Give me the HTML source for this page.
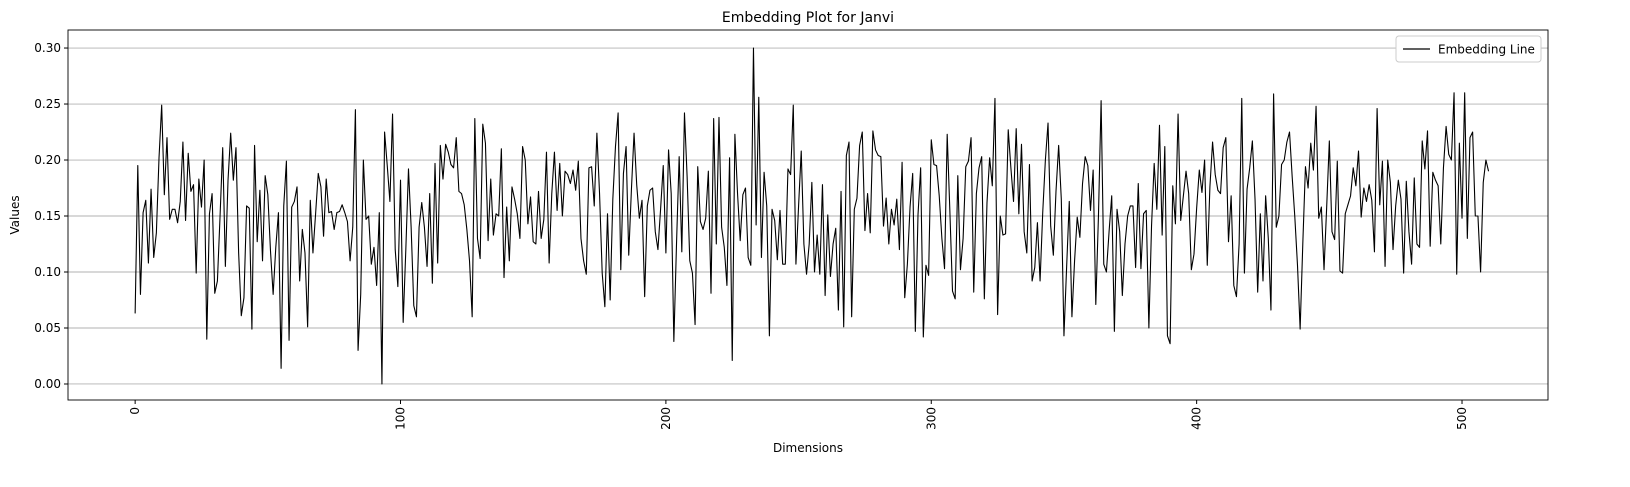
<!DOCTYPE html>
<html><head><meta charset="utf-8"><style>
html,body{margin:0;padding:0;background:#fff;}
svg text{font-family:"DejaVu Sans","Liberation Sans",sans-serif;fill:#000;}
</style></head><body>
<svg id="chart" width="1630" height="482" xmlns="http://www.w3.org/2000/svg">
<rect width="1630" height="482" fill="#fff"/>
<text x="808" y="22" font-size="14" text-anchor="middle">Embedding Plot for Janvi</text>
<g id="grid"></g>
<g id="axes"></g>
<path id="line" fill="none" stroke="#000" stroke-width="1.1" stroke-linejoin="round"/>
<rect x="68" y="30" width="1480" height="370" fill="none" stroke="#000" stroke-width="0.9"/>
<text x="808" y="452" font-size="12" text-anchor="middle">Dimensions</text>
<text x="19" y="215" font-size="12" text-anchor="middle" transform="rotate(-90 19 215)">Values</text>
<g>
<rect x="1396" y="36" width="145" height="26" rx="3" fill="#fff" stroke="#ccc"/>
<line x1="1403" y1="49" x2="1430" y2="49" stroke="#000" stroke-width="1.2"/>
<text x="1438" y="53.5" font-size="12">Embedding Line</text>
</g>
</svg>
<script>
const values = [
0.063,0.195,0.08,0.153,0.164,0.108,0.174,0.113,0.135,0.202,0.249,0.169,0.22,0.147,0.156,0.156,0.144,0.163,0.216,0.146,
0.206,0.172,0.178,0.099,0.183,0.158,0.2,0.04,0.152,0.17,0.081,0.092,0.15,0.211,0.105,0.182,0.224,0.182,0.211,0.117,
0.061,0.077,0.159,0.157,0.049,0.213,0.127,0.173,0.11,0.186,0.169,0.119,0.08,0.122,0.153,0.014,0.159,0.199,0.039,0.158,
0.163,0.176,0.092,0.138,0.117,0.051,0.164,0.117,0.152,0.188,0.176,0.132,0.183,0.153,0.154,0.138,0.153,0.154,0.16,0.153,
0.145,0.11,0.14,
0.245,0.03,0.08,0.2,0.147,0.15,0.107,0.122,0.088,0.153,0.0,0.225,0.195,0.163,0.241,0.12,0.087,0.182,
0.055,0.12,0.192,0.14,0.07,0.06,0.14,0.162,0.14,0.105,0.17,0.09,0.197,0.108,0.213,0.183,0.214,0.207,0.196,0.193,
0.22,0.172,0.17,0.16,0.138,0.11,0.06,0.237,0.13,0.112,0.232,0.215,0.128,0.183,0.133,0.152,0.15,0.21,0.095,0.158,
0.11,0.176,0.165,0.152,0.13,0.212,0.2,0.143,0.167,0.127,0.125,0.172,0.13,0.147,0.207,0.108,0.17,0.207,0.155,0.197,
0.15,0.19,
0.187,0.179,0.191,0.173,0.199,0.13,0.11,0.098,0.193,0.194,0.159,0.224,0.17,0.099,0.069,0.152,0.075,0.165,0.212,0.242,
0.102,0.188,0.212,0.115,0.173,0.224,0.178,0.148,0.164,0.078,0.159,0.173,0.175,0.136,0.12,0.156,0.195,0.117,0.209,0.17,
0.038,0.125,0.203,0.118,0.242,0.185,0.11,0.099,0.053,0.194,0.145,0.138,0.148,0.19,0.081,0.237,0.125,0.238,0.14,0.122,
0.088,0.202,0.021,0.223,0.17,0.128,0.169,0.175,0.113,0.106,0.30,0.142,0.256,0.113,0.189,0.159,0.043,0.156,0.146,0.111,
0.155,0.107,
0.107,0.192,0.187,0.249,0.107,0.159,0.208,0.125,0.098,0.125,0.18,0.1,0.133,0.098,0.178,0.079,0.151,0.096,0.125,0.139,
0.066,0.172,0.051,0.204,0.216,0.06,0.156,0.166,0.213,0.225,0.137,0.17,0.135,0.226,0.209,0.204,0.203,0.141,0.166,0.125,
0.156,0.142,0.165,0.12,0.198,0.077,0.107,0.158,0.188,0.047,0.151,0.193,0.042,0.106,0.097,0.218,0.196,0.195,0.168,0.13,
0.103,0.223,0.155,0.083,0.076,0.186,0.102,0.13,0.194,0.199,0.22,0.082,0.17,0.193,0.203,0.076,0.162,0.202,0.177,0.255,
0.062,0.15,0.133,
0.134,0.227,0.193,0.163,0.228,0.152,0.214,0.136,0.117,0.196,0.092,0.104,0.144,0.092,0.153,0.2,0.233,0.141,0.115,0.172,
0.213,0.165,0.043,0.104,0.163,0.06,0.11,0.149,0.131,0.179,0.203,0.195,0.155,0.191,0.071,0.15,0.253,0.107,0.1,0.136,
0.168,0.047,0.156,0.136,0.079,0.125,0.15,0.159,0.159,0.104,0.179,0.103,0.152,0.155,0.05,0.141,0.197,0.156,0.231,0.133,
0.212,0.043,0.036,0.177,0.143,0.241,0.146,0.168,0.19,0.17,0.102,0.116,0.157,0.191,0.171,0.2,0.106,0.176,0.216,0.187,
0.173,0.17,0.211,
0.22,0.127,0.168,0.088,0.078,0.125,0.255,0.099,0.174,0.193,0.217,0.165,0.082,0.152,0.092,0.168,0.13,0.066,0.259,0.14,
0.15,0.196,0.2,0.216,0.225,0.185,0.149,0.106,0.049,0.125,0.194,0.175,0.215,0.191,0.248,0.148,0.158,0.102,
0.158,0.217,0.136,0.129,0.199,0.101,0.099,0.152,0.16,0.168,0.193,0.177,0.208,0.149,0.175,0.163,0.178,0.164,0.118,
0.246,0.16,0.199,0.105,0.2,0.18,0.12,0.159,0.182,0.165,0.099,0.181,0.136,0.107,0.184,0.125,0.122,0.217,0.192,
0.226,0.123,0.189,0.182,0.177,0.125,0.193,0.23,0.205,0.2,0.26,0.098,0.215,0.148,0.26,0.13,0.22,0.225,0.15,0.15,
0.10,0.18,0.2,0.19
];
const xTicks = [0,100,200,300,400,500];
const yTicks = [0.00,0.05,0.10,0.15,0.20,0.25,0.30];
const yTickLabels = ["0.00","0.05","0.10","0.15","0.20","0.25","0.30"];

const L=68,R=1548,T=30,B=400;
const xMin=-25.3,xMax=532.4;
const yMin=-0.0143,yMax=0.3161;
function xs(v){return L+(v-xMin)/(xMax-xMin)*(R-L);}
function ys(v){return B-(v-yMin)/(yMax-yMin)*(B-T);}
const NS="http://www.w3.org/2000/svg";
const grid=document.getElementById('grid'), axes=document.getElementById('axes');
yTicks.forEach((t,i)=>{
  const y=ys(t);
  const g=document.createElementNS(NS,'line');
  
  
  g.setAttribute('x1',L);g.setAttribute('x2',R);g.setAttribute('y1',y);g.setAttribute('y2',y);
  g.setAttribute('stroke','#b0b0b0');g.setAttribute('stroke-width','0.9');
  grid.appendChild(g);
  const tk=document.createElementNS(NS,'line');
  
  
  tk.setAttribute('x1',L-4);tk.setAttribute('x2',L);tk.setAttribute('y1',y);tk.setAttribute('y2',y);
  tk.setAttribute('stroke','#000');
  axes.appendChild(tk);
  const tx=document.createElementNS(NS,'text');
  
  
  tx.setAttribute('x',L-7);tx.setAttribute('y',y+4);tx.setAttribute('font-size','12');tx.setAttribute('text-anchor','end');
  tx.textContent=yTickLabels[i];
  axes.appendChild(tx);
});
xTicks.forEach(t=>{
  const x=xs(t);
  const tk=document.createElementNS(NS,'line');
  
  
  tk.setAttribute('x1',x);tk.setAttribute('x2',x);tk.setAttribute('y1',B);tk.setAttribute('y2',B+4);
  tk.setAttribute('stroke','#000');
  axes.appendChild(tk);
  const tx=document.createElementNS(NS,'text');
  
  
  tx.setAttribute('font-size','12');tx.setAttribute('text-anchor','end');
  tx.setAttribute('transform','translate('+(x+4)+','+(B+7)+') rotate(-90)');
  tx.textContent=String(t);
  axes.appendChild(tx);
});
let d='';
values.forEach((v,i)=>{d+=(i?'L':'M')+xs(i).toFixed(2)+','+ys(v).toFixed(2);});
document.getElementById('line').setAttribute('d',d);
</script>
</body></html>
